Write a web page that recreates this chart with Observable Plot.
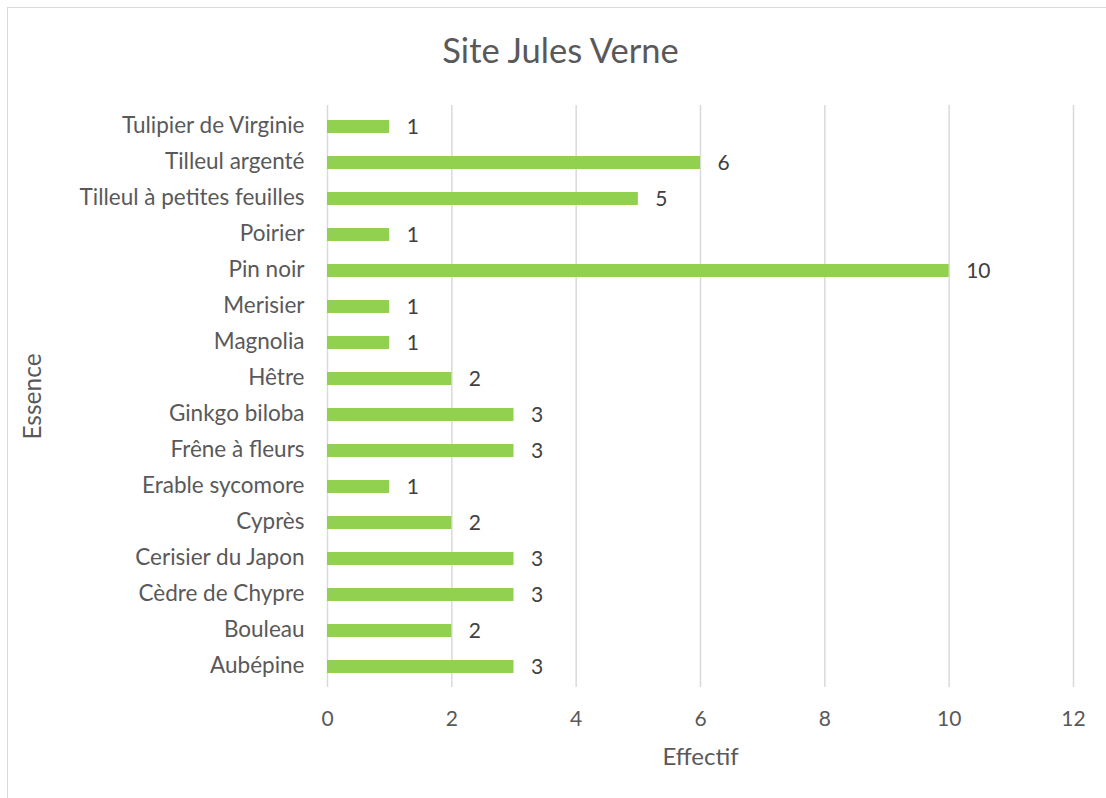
<!DOCTYPE html>
<html>
<head>
<meta charset="utf-8">
<script src="https://cdn.jsdelivr.net/npm/d3@7"></script>
<script src="https://cdn.jsdelivr.net/npm/@observablehq/plot@0.6"></script>
<style>
  body { margin: 0; background: #fff; }
  #wrap { position: relative; width: 1106px; height: 798px; overflow: hidden; }
  #frame { position: absolute; left: 7px; top: 7px; width: 1110px; height: 800px; border: 1.5px solid #d9d9d9; box-sizing: border-box; }
  #chart { position: absolute; left: 0; top: 0; }
</style>
</head>
<body>
<div id="wrap"><div id="frame"></div><div id="chart"></div></div>
<script>
const title = "Site Jules Verne";
const xLabel = "Effectif";
const yLabel = "Essence";
const categories = [
  "Tulipier de Virginie", "Tilleul argenté", "Tilleul à petites feuilles", "Poirier",
  "Pin noir", "Merisier", "Magnolia", "Hêtre", "Ginkgo biloba", "Frêne à fleurs",
  "Erable sycomore", "Cyprès", "Cerisier du Japon", "Cèdre de Chypre", "Bouleau", "Aubépine"
];
const values = [1, 6, 5, 1, 10, 1, 1, 2, 3, 3, 1, 2, 3, 3, 2, 3];
const xTicks = [0, 2, 4, 6, 8, 10, 12];

const data = categories.map((c, i) => ({essence: c, n: values[i]}));
const font = "Lato, 'Open Sans', sans-serif";

const plot = Plot.plot({
  width: 1106,
  height: 798,
  marginTop: 105,
  marginBottom: 111,
  marginLeft: 327,
  marginRight: 33,
  style: {fontFamily: font, background: "transparent", color: "#595959"},
  x: {domain: [0, 12], ticks: xTicks, label: null},
  y: {domain: categories, paddingInner: 0.643, paddingOuter: 0.3215, label: null},
  marks: [
    Plot.gridX(xTicks, {stroke: "#d9d9d9", strokeOpacity: 1, strokeWidth: 1.5}),
    Plot.barX(data, {x: "n", y: "essence", fill: "#92d050"}),
    Plot.text(data, {x: "n", y: "essence", text: d => String(d.n), textAnchor: "start", dx: 17, dy: 0, fontSize: 21, fill: "#404040"}),
    Plot.axisX(xTicks, {tickSize: 0, tickPadding: 24, fontSize: 21, fill: "#595959", label: null}),
    Plot.axisY({tickSize: 0, tickPadding: 23, dy: -1, fontSize: 22.5, fill: "#595959", label: null}),
    Plot.text([title], {frameAnchor: "top", dx: -140, dy: -67, fontSize: 34.5, fill: "#595959"}),
    Plot.text([xLabel], {frameAnchor: "bottom", dy: 77, fontSize: 24, fill: "#595959"}),
    Plot.text([yLabel], {frameAnchor: "left", textAnchor: "middle", dx: -294, rotate: -90, fontSize: 24.5, fill: "#595959"})
  ]
});
document.getElementById("chart").appendChild(plot);
</script>
</body>
</html>
